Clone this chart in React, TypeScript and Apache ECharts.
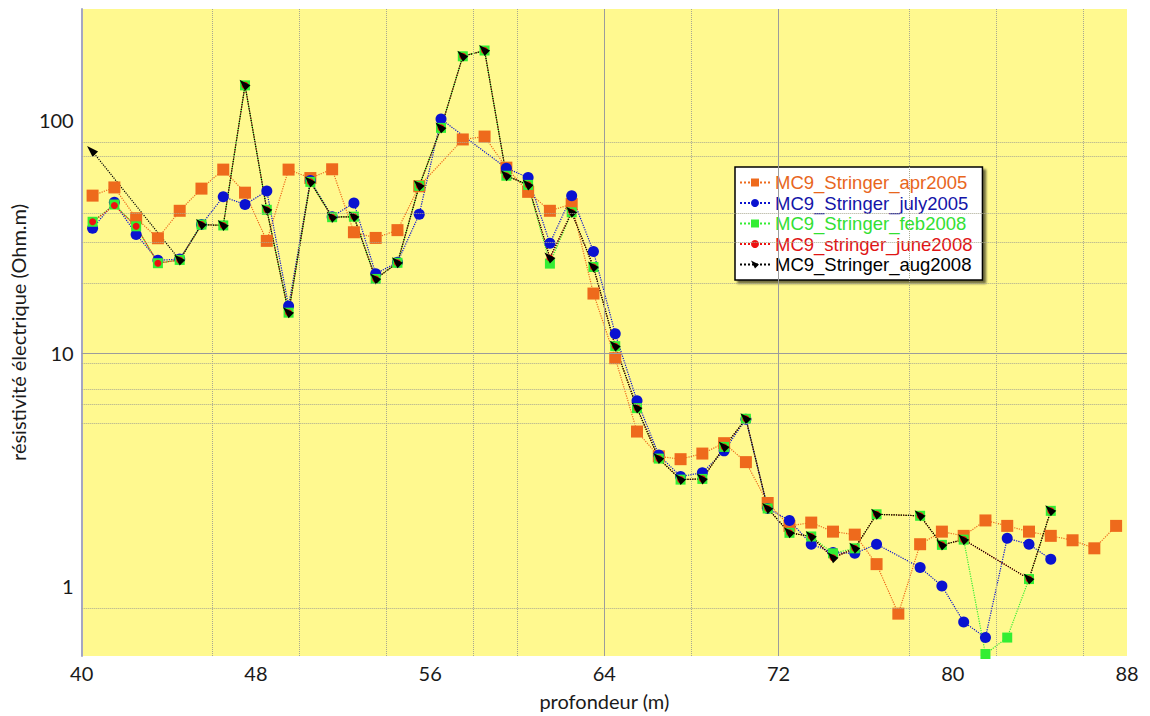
import React, { useEffect, useRef } from "react";
import * as echarts from "echarts";

const DEPTH = [
  40.5, 41.5, 42.5, 43.5, 44.5, 45.5, 46.5, 47.5, 48.5, 49.5, 50.5, 51.5, 52.5, 53.5, 54.5, 55.5,
  56.5, 57.5, 58.5, 59.5, 60.5, 61.5, 62.5, 63.5, 64.5, 65.5, 66.5, 67.5, 68.5, 69.5, 70.5, 71.5,
  72.5, 73.5, 74.5, 75.5, 76.5, 77.5, 78.5, 79.5, 80.5, 81.5, 82.5, 83.5, 84.5, 85.5, 86.5, 87.5,
];

const APR2005 = [
  47.4, 51.4, 37.9, 31.1, 40.8, 50.8, 61.3, 48.8, 30.3, 61.3, 56.4, 61.5, 33, 31.2, 33.7, 52,
  null, 82.6, 85, 62.5, 49.2, 40.8, 43.6, 18, 9.5, 4.6, 3.6, 3.5, 3.7, 4.1, 3.4, 2.27,
  1.81, 1.87, 1.71, 1.66, 1.24, 0.76, 1.51, 1.71, 1.64, 1.91, 1.81, 1.71, 1.64, 1.57, 1.45, 1.81,
];
const JULY2005 = [
  34.3, 44.4, 32.3, 25, 25.3, 35.6, 46.9, 43.4, 49.6, 15.9, 55, 38.5, 44.1, 21.9, 24.5, 39.4,
  101, null, null, 62.2, 56.7, 29.6, 47.3, 27.3, 12.1, 6.24, 3.65, 2.95, 3.06, 3.8, 5.2, 2.15,
  1.91, 1.51, 1.39, 1.38, 1.51, null, 1.2, 1.0, 0.7, 0.6, 1.6, 1.51, 1.3, null, null, null,
];
const FEB2008 = [
  36.6, 43.4, 35, 24.3, 25.1, 35.6, 35.3, 141, 41.2, 14.9, 54.3, 38.3, 38.5, 20.8, 24.4, 52.2,
  92.6, 188, 199, 57.7, 52.7, 24.2, 40.2, 23.4, 10.7, 5.8, 3.52, 2.86, 2.88, 3.95, 5.22, 2.15,
  1.69, 1.63, 1.38, 1.45, 2.03, null, 2.0, 1.5, 1.58, 0.51, 0.6, 1.07, 2.1, null, null, null,
];
const JUNE2008 = [
  36.6, 43.0, 35, 24.3, 25.1, 35.6, 35.3, 141, 41.2, 14.9, 54.3, 38.3, 38.5, 20.8, 24.4, 52.2,
  92.6, 188, 199, 57.7, 52.7, 25.6, 40.2, 23.4, 10.7, 5.8, 3.52, 2.86, 2.88, 3.95, 5.22, 2.15,
  1.69, 1.63, 1.32, 1.45, 2.03, null, 2.0, 1.5, 1.58, null, null, 1.07, 2.1, null, null, null,
];
const AUG2008 = [
  73.3, null, null, null, 25.1, 35.6, 35.3, 141, 41.2, 14.9, 54.3, 38.3, 38.5, 20.8, 24.4, 52.2,
  92.6, 188, 199, 57.7, 52.7, 25.6, 40.2, 23.4, 10.7, 5.8, 3.52, 2.86, 2.88, 3.95, 5.22, 2.15,
  1.69, 1.63, 1.32, 1.45, 2.03, null, 2.0, 1.5, 1.58, null, null, 1.07, 2.1, null, null, null,
];

const SERIES_NAMES = [
  "MC9_Stringer_apr2005",
  "MC9_Stringer_july2005",
  "MC9_Stringer_feb2008",
  "MC9_stringer_june2008",
  "MC9_Stringer_aug2008",
];

const X_TICKS = [40, 48, 56, 64, 72, 80, 88];
const Y_LABELS = [1, 10, 100];
const X_GRID_SOLID = [64, 72];
const X_GRID_DOTTED = [46, 50, 54, 58, 60, 68, 78, 82, 86];
const Y_GRID_SOLID = [10];
const Y_GRID_DOTTED = [0.8, 5, 6, 7, 9, 20, 30, 40, 70, 80];

const FONT = "Lato, 'Open Sans', sans-serif";

function pairs(vals: (number | null)[]) {
  return DEPTH.map((d, i) => [d, vals[i] == null ? null : vals[i]]);
}

export default function App() {
  const ref = useRef<HTMLDivElement>(null);
  useEffect(() => {
    if (!ref.current) return;
    const chart = echarts.init(ref.current, undefined, { renderer: "svg" });
    const tri = "path://M0,0L10,5L5,10Z";
    const styles = [
      { color: "#EE6A1C", text: "#E8661C", symbol: "rect", size: 12, data: APR2005 },
      { color: "#0A12D0", text: "#1414A8", symbol: "circle", size: 11, data: JULY2005 },
      { color: "#33EE33", text: "#33E033", symbol: "rect", size: 10, data: FEB2008 },
      { color: "#EE1111", text: "#E01515", symbol: "circle", size: 7, data: JUNE2008 },
      { color: "#000000", text: "#000000", symbol: tri, size: 11, data: AUG2008 },
    ];
    const gridLine = (color: string, type: string) => ({
      color,
      type,
      width: 1,
      opacity: 1,
    });
    const markData: any[] = [];
    X_GRID_DOTTED.forEach((v) => markData.push({ xAxis: v, lineStyle: gridLine("#A8A890", "dotted") }));
    Y_GRID_DOTTED.forEach((v) => markData.push({ yAxis: v, lineStyle: gridLine("#A8A890", "dotted") }));
    X_GRID_SOLID.forEach((v) => markData.push({ xAxis: v, lineStyle: gridLine("#9C9C9C", "solid") }));
    Y_GRID_SOLID.forEach((v) => markData.push({ yAxis: v, lineStyle: gridLine("#9C9C9C", "solid") }));

    const isLabel = (v: number) => Y_LABELS.some((t) => Math.abs(Math.log10(v) - Math.log10(t)) < 1e-6);

    chart.setOption({
      animation: false,
      backgroundColor: "#ffffff",
      grid: {
        left: 75,
        right: 23,
        top: 9,
        bottom: 60,
        show: true,
        backgroundColor: "#FFF98F",
        borderWidth: 0,
      },
      xAxis: {
        type: "value",
        min: 40,
        max: 88,
        interval: 8,
        name: "profondeur (m)",
        nameLocation: "middle",
        nameGap: 35,
        nameTextStyle: { fontFamily: FONT, fontSize: 20, color: "#1a1a1a" },
        axisLine: { show: false },
        axisTick: { show: false },
        splitLine: { show: false },
        axisLabel: {
          fontFamily: FONT,
          fontSize: 20,
          color: "#1a1a1a",
          margin: 7,
          formatter: (v: number) => (X_TICKS.includes(v) ? String(v) : ""),
        },
      },
      yAxis: {
        type: "log",
        logBase: 10,
        min: 0.5,
        max: 300,
        name: "résistivité électrique (Ohm.m)",
        nameLocation: "middle",
        nameGap: 47,
        nameTextStyle: { fontFamily: FONT, fontSize: 20, color: "#1a1a1a" },
        axisLine: { show: true, lineStyle: { color: "#A4A6C4", width: 2 } },
        axisTick: { show: false },
        splitLine: { show: false },
        axisLabel: {
          fontFamily: FONT,
          fontSize: 20,
          color: "#1a1a1a",
          margin: 8,
          showMinLabel: false,
          showMaxLabel: false,
          formatter: (v: number) => (isLabel(v) ? String(Math.round(v)) : ""),
        },
      },
      legend: {
        orient: "vertical",
        left: 735,
        top: 167,
        itemWidth: 30,
        itemHeight: 10,
        itemGap: 1.5,
        padding: [6, 10, 6, 4],
        backgroundColor: "#ffffff",
        borderColor: "#000000",
        borderWidth: 1.5,
        shadowColor: "rgba(0,0,0,0.55)",
        shadowBlur: 2,
        shadowOffsetX: 3,
        shadowOffsetY: 3,
        textStyle: { fontFamily: "'Liberation Sans', Arial, sans-serif", fontSize: 18.5 },
        data: SERIES_NAMES.map((n, i) => ({ name: n, textStyle: { color: styles[i].text } })),
      },
      series: [
        {
          name: "grid",
          type: "line",
          data: [],
          silent: true,
          color: "#9C9C9C",
          markLine: {
            silent: true,
            symbol: ["none", "none"],
            label: { show: false },
            animation: false,
            lineStyle: { color: "#9C9C9C", width: 1 },
            data: markData,
          },
        },
        ...styles.map((s, i) => ({
          name: SERIES_NAMES[i],
          type: "line",
          data: pairs(s.data),
          connectNulls: true,
          symbol: s.symbol,
          symbolSize: s.size,
          showAllSymbol: true,
          itemStyle: { color: s.color },
          lineStyle: { color: s.color, width: 1.2, type: "dotted" },
        })),
      ],
    });
    return () => chart.dispose();
  }, []);
  return (
    <div
      ref={ref}
      style={{ position: "fixed", left: 0, top: 0, width: 1150, height: 716 }}
    />
  );
}
